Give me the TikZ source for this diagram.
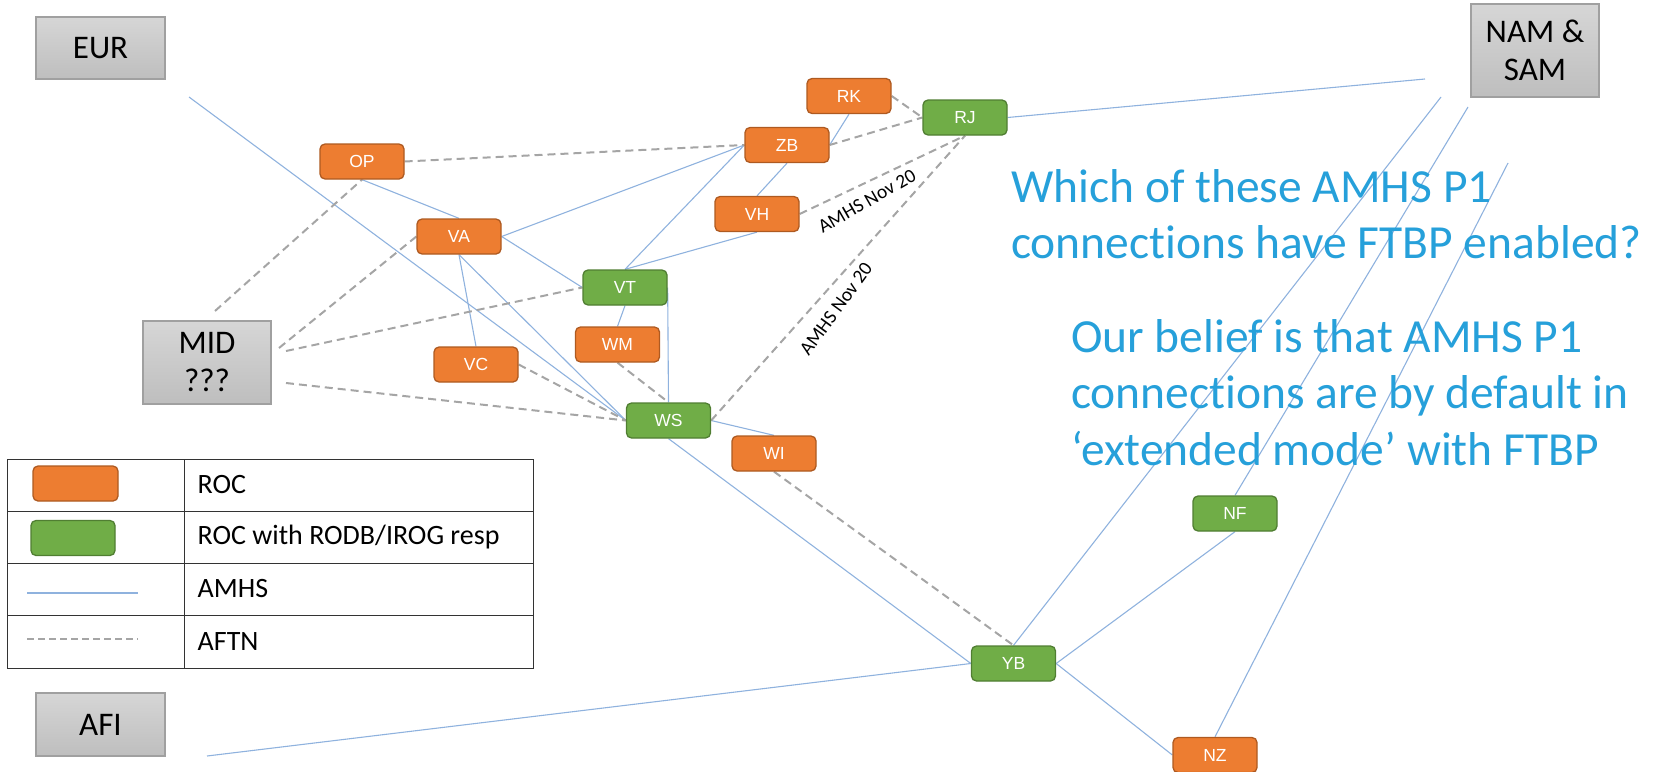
\documentclass[tikz,border=0pt]{standalone}
\usepackage{fontspec}
\setmainfont{Carlito}[Ligatures={NoCommon,NoContextual}]
\newfontfamily\arialf{Liberation Sans}
\pgfdeclarelayer{bg}
\pgfsetlayers{bg,main}
\definecolor{rocO}{RGB}{237,125,49}
\definecolor{rocOd}{RGB}{174,90,33}
\definecolor{rocG}{RGB}{112,173,71}
\definecolor{rocGd}{RGB}{80,126,50}
\definecolor{amhsC}{RGB}{143,178,222}
\definecolor{aftnC}{RGB}{165,165,165}
\definecolor{qC}{RGB}{38,160,218}
\definecolor{regTop}{RGB}{214,214,214}
\definecolor{regBot}{RGB}{190,190,190}
\definecolor{regBd}{RGB}{160,160,160}
\begin{document}
\begin{tikzpicture}[x=1pt,y=-1pt,
 box/.style={rounded corners=5pt, line width=1.3pt, minimum width=84pt, minimum height=35pt, inner sep=0pt, text=white, font=\arialf\fontsize{17.5}{20}\selectfont},
 roc/.style={box, fill=rocO, draw=rocOd},
 rocg/.style={box, fill=rocG, draw=rocGd},
 region/.style={draw=regBd, line width=1.2pt, top color=regTop, bottom color=regBot, inner sep=0pt, align=center, font=\fontsize{33}{38}\selectfont},
 amhs/.style={draw=amhsC, line width=1.1pt},
 aftn/.style={draw=aftnC, line width=2pt, dash pattern=on 8pt off 5pt},
 lbl/.style={font=\fontsize{19.5}{22}\selectfont, inner sep=0pt},
 qtext/.style={anchor=base west, text=qC, font=\fontsize{47.5}{57}\selectfont, inner sep=0pt},
 legtext/.style={anchor=west, font=\fontsize{28}{32}\selectfont, inner sep=0pt},
 legline/.style={draw=black!80, line width=1pt}
]
\useasboundingbox (0,0) rectangle (1665,771);

% regions
\node[region, minimum width=129pt, minimum height=62pt] (EUR) at (100.5,48) {EUR};
\node[region, minimum width=128pt, minimum height=83pt] (MID) at (207,362.5) {MID\\???};
\node[region, minimum width=128pt, minimum height=93pt] (NAMSAM) at (1535,50.5) {NAM \&\\SAM};
\node[region, minimum width=129pt, minimum height=63pt] (AFI) at (100.5,724.5) {AFI};

% ROC nodes
\node[roc] (OP) at (362,161.5) {OP};
\node[roc] (VA) at (459,236.5) {VA};
\node[roc] (VC) at (476,364.5) {VC};
\node[roc] (RK) at (849,96) {RK};
\node[roc] (ZB) at (787,145) {ZB};
\node[roc] (VH) at (757,214) {VH};
\node[roc] (WM) at (617.5,344.5) {WM};
\node[roc] (WI) at (774,453.5) {WI};
\node[roc] (NZ) at (1215,755) {NZ};
\node[rocg] (RJ) at (965,117.5) {RJ};
\node[rocg] (VT) at (625,287.5) {VT};
\node[rocg] (WS) at (668.5,420.5) {WS};
\node[rocg] (YB) at (1013.5,663.5) {YB};
\node[rocg] (NF) at (1235,513.5) {NF};

% free ends
\coordinate (eurpt) at (189,97);
\coordinate (rjpt) at (1425,79);
\coordinate (afipt) at (207,756);
\coordinate (nam1) at (1441,97);
\coordinate (nam2) at (1468,107);
\coordinate (nam3) at (1508,163);
\coordinate (mid1) at (215,311);
\coordinate (mid2) at (279,348);
\coordinate (mid3) at (286,351);
\coordinate (mid4) at (286,383);

\begin{pgfonlayer}{bg}
% AMHS
\draw[amhs] (eurpt) -- (WS.west);
\draw[amhs] (OP.south) -- (VA.north);
\draw[amhs] (VA.east) -- (ZB.west);
\draw[amhs] (VA.east) -- (VT.west);
\draw[amhs] (VA.south) -- (VC.north);
\draw[amhs] (VA.south) -- (WS.west);
\draw[amhs] (VT.north) -- (ZB.west);
\draw[amhs] (VT.north) -- (VH.south);
\draw[amhs] (VH.north) -- (ZB.south);
\draw[amhs] (ZB.east) -- (RK.south);
\draw[amhs] (VT.south) -- (WM.north);
\draw[amhs] (VT.east) -- (WS.north);
\draw[amhs] (WS.east) -- (WI.north);
\draw[amhs] (WS.south) -- (YB.west);
\draw[amhs] (RJ.east) -- (rjpt);
\draw[amhs] (afipt) -- (YB.west);
\draw[amhs] (nam1) -- (YB.north);
\draw[amhs] (nam2) -- (NF.north);
\draw[amhs] (nam3) -- (NZ.north);
\draw[amhs] (NF.south) -- (YB.east);
\draw[amhs] (YB.east) -- (NZ.west);
% AFTN
\draw[aftn] (mid1) -- (OP.south);
\draw[aftn] (mid2) -- (VA.west);
\draw[aftn] (mid3) -- (VT.west);
\draw[aftn] (mid4) -- (WS.west);
\draw[aftn] (OP.east) -- (ZB.west);
\draw[aftn] (ZB.east) -- (RJ.west);
\draw[aftn] (RK.east) -- (RJ.west);
\draw[aftn] (VH.east) -- (RJ.south);
\draw[aftn] (WS.east) -- (RJ.south);
\draw[aftn] (VC.east) -- (WS.west);
\draw[aftn] (WM.south) -- (WS.north);
\draw[aftn] (WI.south) -- (YB.north);
\end{pgfonlayer}

% connector labels
\node[lbl, rotate=30] (L1) at (867,201) {AMHS Nov 20};
\node[lbl, rotate=54] (L2) at (836,309) {AMHS Nov 20};

% question text
\node[qtext] (q1) at (1011,202) {Which of these AMHS P1};
\node[qtext] (q2) at (1011,258) {connections have FTBP enabled?};
\node[qtext] (q3) at (1071,352) {Our belief is that AMHS P1};
\node[qtext] (q4) at (1071,408) {connections are by default in};
\node[qtext] (q5) at (1071,465) {‘extended mode’ with FTBP};

% legend
\draw[legline] (7,459) rectangle (533,668);
\draw[legline] (184,459) -- (184,668);
\draw[legline] (7,511) -- (533,511);
\draw[legline] (7,563) -- (533,563);
\draw[legline] (7,615) -- (533,615);
\node[roc, minimum width=85pt] (legO) at (75.5,483.5) {};
\node[rocg] (legG) at (73,538) {};
\coordinate (la1) at (27,593);
\coordinate (la2) at (138,593);
\coordinate (lf1) at (27,639);
\coordinate (lf2) at (138,639);
\draw[amhs] (la1) -- (la2);
\draw[draw=aftnC, line width=1.6pt, dash pattern=on 7pt off 4pt] (lf1) -- (lf2);
\node[legtext] (t1) at (197.5,485) {ROC};
\node[legtext] (t2) at (197.5,537) {ROC with RODB/IROG resp};
\node[legtext] (t3) at (197.5,589) {AMHS};
\node[legtext] (t4) at (197.5,641.5) {AFTN};
\end{tikzpicture}
\end{document}
